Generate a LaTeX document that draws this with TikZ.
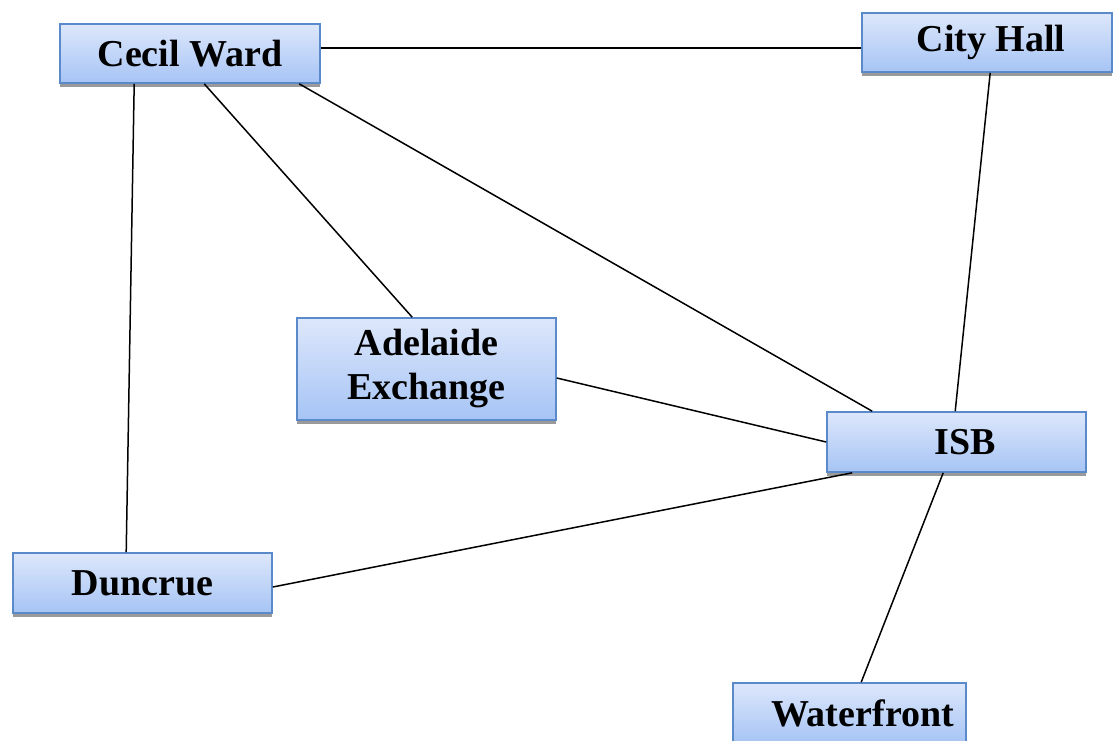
\documentclass[tikz,border=0pt]{standalone}
\usepackage{fontspec}
\setmainfont{Liberation Serif}
\usetikzlibrary{calc,shadows}
\definecolor{boxtop}{HTML}{DDE7FB}
\definecolor{boxbottom}{HTML}{A6C4F5}
\definecolor{boxedge}{HTML}{5A8AC9}
\definecolor{shadowgray}{HTML}{9A9A9A}
\tikzset{
  site/.style={
    rectangle, draw=boxedge, line width=1.6pt,
    top color=boxtop, bottom color=boxbottom,
    inner sep=0pt, align=center,
    font=\fontsize{38}{44}\selectfont\bfseries,
    drop shadow={shadow xshift=0pt, shadow yshift=-3.5pt, fill=shadowgray, opacity=1}
  },
  link/.style={draw=black, line width=1.5pt}
}
\begin{document}
\begin{tikzpicture}[x=1pt,y=-1pt]
\clip (0,0) rectangle (1114,740);
\fill[white] (0,0) rectangle (1114,740);

% stations
\node[site, minimum width=260pt, minimum height=59pt] (cw) at (190,53.5) {Cecil Ward};
\node[site, minimum width=250pt, minimum height=59pt] (ch) at (987,42.5) {\hspace*{8pt}City Hall};
\node[site, minimum width=259pt, minimum height=102pt] (ae) at (426.5,369) {Adelaide\\Exchange};
\node[site, minimum width=259pt, minimum height=60pt] (isb) at (956.5,442) {\hspace*{18pt}ISB};
\node[site, minimum width=259pt, minimum height=60pt] (dc) at (142.5,583) {Duncrue};
\node[site, minimum width=233pt, minimum height=60pt] (wf) at (849.5,713) {\hspace*{26pt}Waterfront};

% connections
\draw[link] ($(cw.east)+(0,-5.5)$) -- ($(ch.west)+(0,5.5)$);
\draw[link] ($(cw.south west)+(75,0)$) -- ($(dc.north west)+(114,0)$);
\draw[link] ($(cw.south west)+(145,0)$) -- ($(ae.north west)+(116,0)$);
\draw[link] ($(cw.south west)+(240,0)$) -- ($(isb.north west)+(46,0)$);
\draw[link] ($(ch.south west)+(129,0)$) -- ($(isb.north west)+(129,0)$);
\draw[link] ($(ae.east)+(0,9)$) -- (isb.west);
\draw[link] ($(dc.east)+(0,4)$) -- ($(isb.south west)+(26,0)$);
\draw[link] ($(isb.south west)+(117,0)$) -- ($(wf.north west)+(129,0)$);
\end{tikzpicture}
\end{document}
